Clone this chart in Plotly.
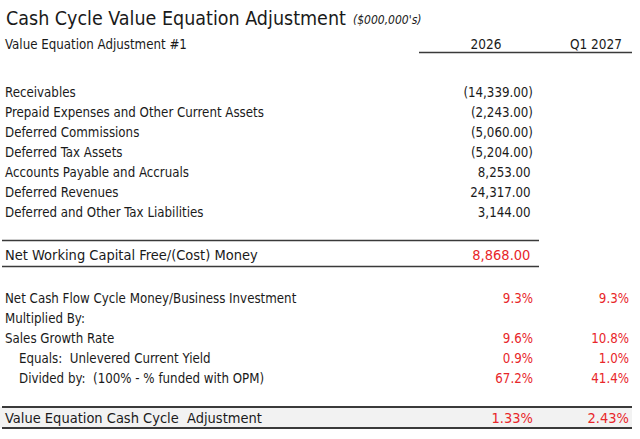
import plotly.graph_objects as go

# ---- data ----
title = "Cash Cycle Value Equation Adjustment"
unit_note = "($000,000's)"
section_label = "Value Equation Adjustment #1"
periods = ["2026", "Q1 2027"]

wc_items = [
    "Receivables",
    "Prepaid Expenses and Other Current Assets",
    "Deferred Commissions",
    "Deferred Tax Assets",
    "Accounts Payable and Accruals",
    "Deferred Revenues",
    "Deferred and Other Tax Liabilities",
]
wc_2026 = [-14339.00, -2243.00, -5060.00, -5204.00, 8253.00, 24317.00, 3144.00]

nwc_label = "Net Working Capital Free/(Cost) Money"
nwc_2026 = 8868.00

ratio_labels = [
    "Net Cash Flow Cycle Money/Business Investment",
    "Multiplied By:",
    "Sales Growth Rate",
    "Equals:  Unlevered Current Yield",
    "Divided by:  (100% - % funded with OPM)",
]
ratio_indent = [False, False, False, True, True]
ratio_2026 = [9.3, None, 9.6, 0.9, 67.2]
ratio_q127 = [9.3, None, 10.8, 1.0, 41.4]

adj_label = "Value Equation Cash Cycle  Adjustment"
adj_2026 = 1.33
adj_q127 = 2.43

# ---- style ----
FONT = "DejaVu Sans Condensed, sans-serif"
BLACK = "#1a1a1a"
RED = "#e8262a"
ROW = 20
X_LABEL = 5
X_COL = [533, 629]
X_HEAD = [486, 596]


def acct(v):
    s = f"{abs(v):,.2f}"
    return f"({s})" if v < 0 else s + "\u2009"


def pct(v, d=1):
    return "" if v is None else f"{v:.{d}f}%"


# row layout (pixel rows)
y_head = 45.5
y_wc = [93.5 + ROW * i for i in range(len(wc_items))]
y_nwc = 256.5
y_ratio = [299.5 + ROW * i for i in range(len(ratio_labels))]
y_adj = 419

fig = go.Figure()


def text_trace(x, y, text, color=BLACK, size=13.2, align="right"):
    pos = {"right": "middle left", "left": "middle right", "center": "middle center"}[align]
    fig.add_trace(go.Scatter(
        x=x, y=y, text=text, mode="text", textposition=pos,
        textfont=dict(family=FONT, size=size, color=color),
        hoverinfo="skip", showlegend=False,
    ))


# header
text_trace([X_LABEL], [y_head], [section_label], align="left")
text_trace(X_HEAD, [y_head, y_head], periods, size=13.5, align="center")

# working capital items
text_trace([X_LABEL] * len(wc_items), y_wc, wc_items, align="left")
text_trace([X_COL[0]] * len(wc_2026), y_wc, [acct(v) for v in wc_2026])

# net working capital
text_trace([X_LABEL], [y_nwc], [nwc_label], size=14.5, align="left")
text_trace([X_COL[0]], [y_nwc], [acct(nwc_2026)], color=RED, size=14.5)

# ratios
text_trace([X_LABEL + (14 if ind else 0) for ind in ratio_indent], y_ratio, ratio_labels, align="left")
text_trace([X_COL[0]] * len(y_ratio), y_ratio, [pct(v) for v in ratio_2026], color=RED)
text_trace([X_COL[1]] * len(y_ratio), y_ratio, [pct(v) for v in ratio_q127], color=RED)

# final adjustment
text_trace([X_LABEL], [y_adj], [adj_label], size=14.5, align="left")
text_trace(X_COL, [y_adj, y_adj], [pct(adj_2026, 2), pct(adj_q127, 2)], color=RED, size=14.5)

line = dict(color="#3a3a3a", width=1.3)
fig.update_layout(
    width=640, height=439,
    margin=dict(l=0, r=0, t=0, b=0),
    paper_bgcolor="white", plot_bgcolor="white",
    xaxis=dict(range=[0, 640], visible=False, fixedrange=True),
    yaxis=dict(range=[439, 0], visible=False, fixedrange=True),
    shapes=[
        dict(type="rect", x0=0, x1=632, y0=407, y1=428, fillcolor="#f2f2f2", line_width=0, layer="below"),
        dict(type="line", x0=419, x1=632, y0=52.5, y1=52.5, line=line),
        dict(type="line", x0=2, x1=539, y0=240.5, y1=240.5, line=line),
        dict(type="line", x0=2, x1=539, y0=266.5, y1=266.5, line=line),
        dict(type="line", x0=2, x1=632, y0=407, y1=407, line=dict(color="#3a3a3a", width=1.8)),
        dict(type="line", x0=2, x1=632, y0=428, y1=428, line=dict(color="#3a3a3a", width=1.8)),
    ],
    annotations=[
        dict(x=4, y=18, xref="x", yref="y", text=title, showarrow=False, xanchor="left",
             font=dict(family=FONT, size=19.5, color=BLACK)),
        dict(x=351, y=20, xref="x", yref="y", text="<i>" + unit_note + "</i>", showarrow=False,
             xanchor="left", font=dict(family=FONT, size=12, color=BLACK)),
    ],
)

fig.write_html("out.html", config={"displayModeBar": False},
               post_script="document.body.style.margin='0';")
